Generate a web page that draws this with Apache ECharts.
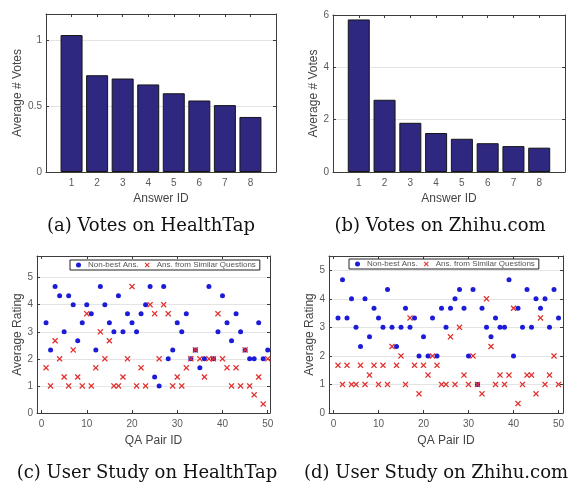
<!DOCTYPE html>
<html>
<head>
<meta charset="utf-8">
<script src="https://cdn.jsdelivr.net/npm/echarts@6/dist/echarts.min.js"></script>
<style>
html, body { margin: 0; padding: 0; background: #fff; }
#chart { width: 578px; height: 484px; }
</style>
</head>
<body>
<div id="chart"></div>
<script>
// answer ranks and average votes (top row)
const answerIds = [1, 2, 3, 4, 5, 6, 7, 8];
const healthTapVotes = [1.04, 0.735, 0.71, 0.665, 0.598, 0.543, 0.508, 0.418];
const zhihuVotes = [5.83, 2.76, 1.88, 1.49, 1.27, 1.10, 0.99, 0.93];

// user study ratings (bottom row)
const qaPairIds = [1, 2, 3, 4, 5, 6, 7, 8, 9, 10, 11, 12, 13, 14, 15, 16, 17, 18, 19, 20,
  21, 22, 23, 24, 25, 26, 27, 28, 29, 30, 31, 32, 33, 34, 35, 36, 37, 38, 39, 40,
  41, 42, 43, 44, 45, 46, 47, 48, 49, 50];
const healthTapNonBest = [3.33, 2.33, 4.67, 4.33, 3, 4.33, 4, 2.67, 3.33, 4, 3.67, 2.33, 4.67, 4, 3.33, 3, 4.33, 3, 3.67, 3.33,
  3, 3.67, 4, 4.67, 1.33, 1, 4.67, 2, 2.33, 3.33, 3, 3.67, 2, 2.33, 1.67, 2, 4.67, 2, 3, 4.33,
  3.33, 2.67, 3.67, 3, 2.33, 2, 2, 3.33, 2, 2.33];
const healthTapSimilar = [1.67, 1, 2.67, 2, 1.33, 1, 2.33, 1.33, 1, 3.67, 1, 1.67, 3, 2, 2.67, 1, 1, 1.33, 2, 4.67,
  1, 1.67, 1, 4, 3.67, 2, 4, 3.67, 1, 1.33, 1, 1.67, 2, 2.33, 2, 1.33, 2, 2, 3.67, 2,
  1.67, 1, 1.67, 1, 2.33, 1, 0.67, 1.33, 0.33, 2];
const zhihuNonBest = [3.33, 4.67, 3.33, 4, 3, 2.33, 4, 2.67, 3.67, 3.33, 3, 4.33, 3, 2.33, 3, 3.67, 3, 3.33, 2, 2.67,
  2, 3.33, 2, 3.67, 3, 3.67, 4, 4.33, 3.67, 2, 4.33, 1, 3.67, 3, 2.67, 3.33, 3, 3, 4.67, 2,
  3.67, 3, 4.33, 3, 4, 3.67, 4, 3, 4.33, 3.33];
const zhihuSimilar = [1.67, 1, 1.67, 1, 1, 1.67, 1, 1.33, 1.67, 1, 1.67, 1, 2.33, 1.67, 2, 1, 3.33, 1.67, 0.67, 1.67,
  1.33, 2, 1.67, 1, 1, 2.67, 1, 3, 1.33, 1, 2, 1, 0.67, 4, 2.33, 1, 1.33, 1, 1.33, 3.67,
  0.33, 1, 1.33, 1.33, 0.67, 3.33, 1, 1.33, 2, 1];

const pairTicks = [0, 10, 20, 30, 40, 50];
const seriesNames = ['Non-best Ans.', 'Ans. from Similar Questions'];
const captions = ['(a) Votes on HealthTap', '(b) Votes on Zhihu.com',
  '(c) User Study on HealthTap', '(d) User Study on Zhihu.com'];

const sans = 'Liberation Sans';
const boxColor = '#3c3c3c';
const labelColor = '#5a5a5a';
const gridLineColor = '#e4e4e4';
const barColor = '#2e2880';
const dotColor = '#1c1cd8';
const crossColor = '#e2302e';
const crossPath = 'path://M0,1.5L1.5,0L5,3.5L8.5,0L10,1.5L6.5,5L10,8.5L8.5,10L5,6.5L1.5,10L0,8.5L3.5,5Z';

const grids = [
  { left: 46, top: 14, width: 230, height: 158 },
  { left: 333, top: 15, width: 232, height: 157 },
  { left: 37, top: 256, width: 233, height: 157 },
  { left: 329, top: 256, width: 234, height: 157 }
];

function boxLine() {
  return { show: true, onZero: false, lineStyle: { color: boxColor, width: 1 } };
}
function innerTick(extra) {
  return Object.assign({ show: true, inside: true, length: 3, lineStyle: { color: boxColor } }, extra || {});
}

// bottom + top x axes, left + right y axes for each panel (matlab box style)
const xAxes = [];
const yAxes = [];

function addPanel(g, x, y) {
  xAxes.push(Object.assign({
    type: 'value', gridIndex: g, position: 'bottom',
    axisLine: boxLine(), splitLine: { show: false },
    nameLocation: 'middle', nameTextStyle: { fontFamily: sans, fontSize: 12, color: '#444' }
  }, x.main));
  xAxes.push(Object.assign({
    type: 'value', gridIndex: g, position: 'top',
    axisLine: boxLine(), splitLine: { show: false }, axisLabel: { show: false }
  }, x.box));
  yAxes.push(Object.assign({
    type: 'value', gridIndex: g, position: 'left',
    axisLine: boxLine(), axisTick: innerTick(),
    splitLine: { show: true, lineStyle: { color: gridLineColor, width: 1 } },
    nameLocation: 'middle', nameTextStyle: { fontFamily: sans, fontSize: 12, color: '#444' }
  }, y.main));
  yAxes.push(Object.assign({
    type: 'value', gridIndex: g, position: 'right',
    axisLine: boxLine(), axisTick: innerTick(),
    splitLine: { show: false }, axisLabel: { show: false }
  }, y.box));
}

const tickLabel = { fontFamily: sans, fontSize: 10, color: labelColor };

const barX = {
  min: 0, max: 9, interval: 1,
  axisTick: innerTick({ customValues: answerIds })
};
addPanel(0,
  { main: Object.assign({}, barX, { name: 'Answer ID', nameGap: 21,
      axisLabel: Object.assign({ customValues: answerIds, margin: 6 }, tickLabel) }),
    box: barX },
  { main: { min: 0, max: 1.2, interval: 0.5, name: 'Average # Votes', nameGap: 22,
      axisLabel: Object.assign({ margin: 4, showMaxLabel: false }, tickLabel) },
    box: { min: 0, max: 1.2, interval: 0.5 } });
addPanel(1,
  { main: Object.assign({}, barX, { name: 'Answer ID', nameGap: 21,
      axisLabel: Object.assign({ customValues: answerIds, margin: 6 }, tickLabel) }),
    box: barX },
  { main: { min: 0, max: 6, interval: 2, name: 'Average # Votes', nameGap: 13,
      axisLabel: Object.assign({ margin: 4 }, tickLabel) },
    box: { min: 0, max: 6, interval: 2 } });

const pairXc = { min: -1, max: 50.5, axisTick: innerTick({ customValues: pairTicks }) };
const pairXd = { min: -1, max: 51, axisTick: innerTick({ customValues: pairTicks }) };
addPanel(2,
  { main: Object.assign({}, pairXc, { name: 'QA Pair ID', nameGap: 22,
      axisLabel: Object.assign({ customValues: pairTicks, margin: 6 }, tickLabel) }),
    box: pairXc },
  { main: { min: 0, max: 5.8, interval: 1, name: 'Average Rating', nameGap: 13,
      axisLabel: Object.assign({ margin: 4, showMaxLabel: false }, tickLabel) },
    box: { min: 0, max: 5.8, interval: 1 } });
addPanel(3,
  { main: Object.assign({}, pairXd, { name: 'QA Pair ID', nameGap: 22,
      axisLabel: Object.assign({ customValues: pairTicks, margin: 6 }, tickLabel) }),
    box: pairXd },
  { main: { min: 0, max: 5.5, interval: 1, name: 'Average Rating', nameGap: 13,
      axisLabel: Object.assign({ margin: 4, showMaxLabel: false }, tickLabel) },
    box: { min: 0, max: 5.5, interval: 1 } });

function pairs(xs, ys) {
  return xs.map((x, i) => [x, ys[i]]);
}

function barSeries(panel, values) {
  return {
    type: 'bar', xAxisIndex: panel * 2, yAxisIndex: panel * 2,
    data: pairs(answerIds, values), barWidth: 22,
    itemStyle: { color: barColor, borderColor: '#151515', borderWidth: 1 },
    silent: true, animation: false
  };
}
function dotSeries(panel, values) {
  return {
    type: 'scatter', name: seriesNames[0], xAxisIndex: panel * 2, yAxisIndex: panel * 2,
    data: pairs(qaPairIds, values), symbol: 'circle', symbolSize: 5,
    itemStyle: { color: dotColor, opacity: 1 }, animation: false, z: 2
  };
}
function crossSeries(panel, values) {
  return {
    type: 'scatter', name: seriesNames[1], xAxisIndex: panel * 2, yAxisIndex: panel * 2,
    data: pairs(qaPairIds, values), symbol: crossPath, symbolSize: 6,
    itemStyle: { color: crossColor, opacity: 1 }, animation: false, z: 3
  };
}

function legendAt(left, top) {
  return {
    data: seriesNames, left: left, top: top, orient: 'horizontal',
    itemWidth: 9, itemHeight: 5, itemGap: 6, selectedMode: false,
    padding: [1, 4, 1, 6], borderColor: '#222', borderWidth: 1, backgroundColor: '#fff',
    textStyle: { fontFamily: sans, fontSize: 8, color: '#555' }
  };
}

const captionPos = [[151, 226], [440, 226], [147, 473], [436, 473]];

const chart = echarts.init(document.getElementById('chart'), null, { renderer: 'canvas' });
chart.setOption({
  backgroundColor: '#fff',
  animation: false,
  grid: grids,
  xAxis: xAxes,
  yAxis: yAxes,
  legend: [legendAt(70, 260), legendAt(349, 259)],
  series: [
    barSeries(0, healthTapVotes),
    barSeries(1, zhihuVotes),
    dotSeries(2, healthTapNonBest),
    crossSeries(2, healthTapSimilar),
    dotSeries(3, zhihuNonBest),
    crossSeries(3, zhihuSimilar)
  ],
  graphic: captions.map((text, i) => ({
    type: 'text', x: captionPos[i][0], y: captionPos[i][1],
    style: {
      text: text, fill: '#111', font: '18px "DejaVu Serif"',
      textAlign: 'center', textVerticalAlign: 'middle', align: 'center', verticalAlign: 'middle'
    }
  }))
});
</script>
</body>
</html>
